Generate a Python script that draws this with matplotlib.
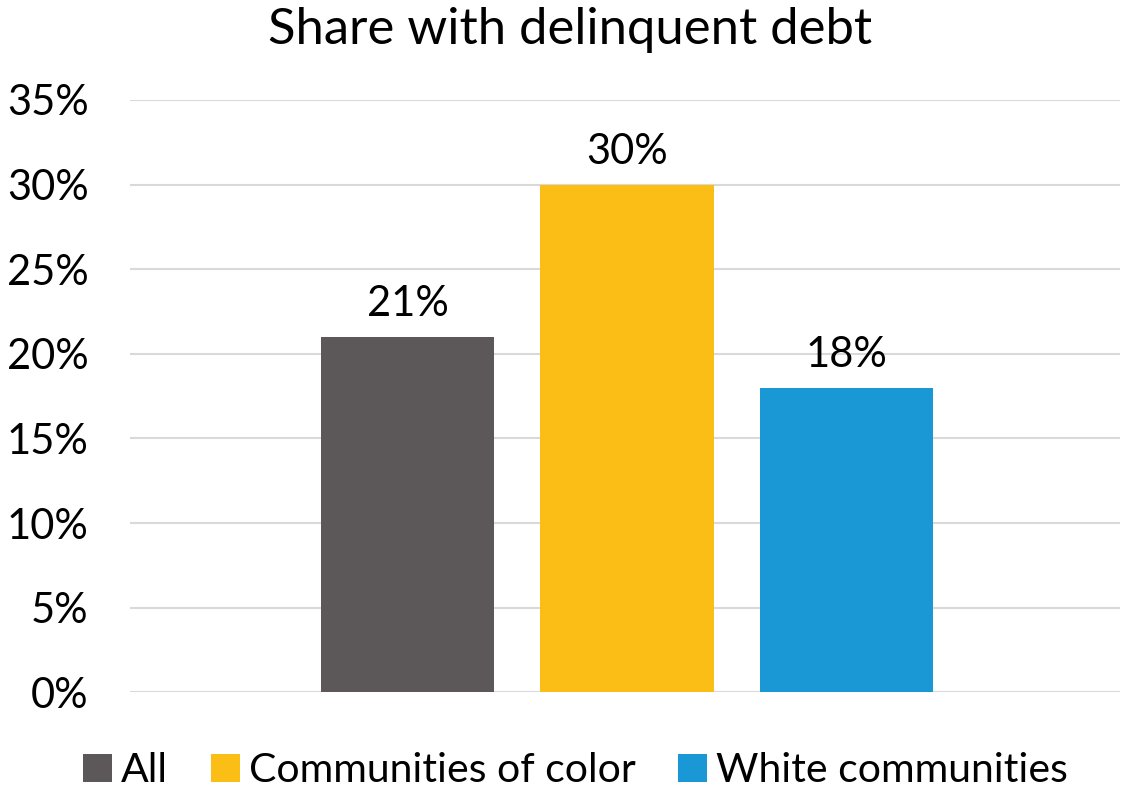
import matplotlib.pyplot as plt
from matplotlib.ticker import PercentFormatter

plt.rcParams['font.family'] = ['Lato', 'DejaVu Sans']

categories = ['All', 'Communities of color', 'White communities']
values = [21, 30, 18]
colors = ['#5c5859', '#fbbe16', '#1a98d5']
yticks = [0, 5, 10, 15, 20, 25, 30, 35]

fig = plt.figure(figsize=(11.22, 7.93), dpi=100)
ax = fig.add_axes([0.116, 0.127, 0.882, 0.747])

x = range(len(categories))
bars = ax.bar(x, values, width=0.79, color=colors, label=categories, zorder=3)

for b, v in zip(bars, values):
    ax.text(b.get_x() + b.get_width() / 2, v + 0.8, f'{v}%',
            ha='center', va='bottom', fontsize=30, color='black')

ax.set_xlim(-1.264, 3.245)
ax.set_ylim(0, 35)
ax.set_yticks(yticks)
ax.yaxis.set_major_formatter(PercentFormatter(decimals=0))
ax.tick_params(axis='y', length=0, labelsize=30, pad=30)
ax.set_xticks([])
ax.grid(axis='y', color='#d9d9d9', linewidth=1.5, zorder=0)
for s in ax.spines.values():
    s.set_visible(False)

fig.text(0.508, 0.962, 'Share with delinquent debt', fontsize=36.5,
         ha='center', va='center')

fig.legend(handles=bars, labels=categories, loc='center',
           bbox_to_anchor=(0.513, 0.028), ncol=3, frameon=False, fontsize=29.5,
           handlelength=0.7, handleheight=0.7, handletextpad=0.22, columnspacing=1.05,
           borderaxespad=0)

fig.savefig('out.png', dpi=100)
